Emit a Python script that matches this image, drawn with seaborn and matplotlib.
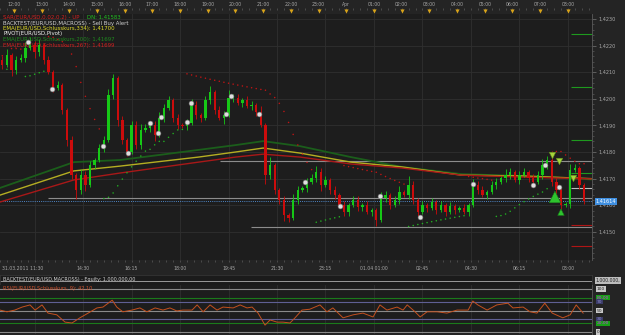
import numpy as np
import matplotlib
matplotlib.use("Agg")
import matplotlib.pyplot as plt
import matplotlib.transforms as mtrans
from matplotlib.ticker import MultipleLocator, FixedLocator
import seaborn as sns

# ---------------- data ----------------
first_open = 1.42146
closes = [1.42127, 1.42165, 1.42108, 1.42146, 1.42153, 1.42191, 1.42202, 1.42176, 1.42202, 1.42146,
          1.42101, 1.42041, 1.42052, 1.41958, 1.41845, 1.41713, 1.41657, 1.41713, 1.41676, 1.41751,
          1.41770, 1.41815, 1.41845, 1.42014, 1.42078, 1.41920, 1.41845, 1.41800, 1.41901, 1.41826,
          1.41883, 1.41890, 1.41901, 1.41864, 1.41928, 1.41965, 1.41995, 1.41928, 1.41901, 1.41898,
          1.41909, 1.41977, 1.41939, 1.41928, 1.41995, 1.42026, 1.41958, 1.41928, 1.41939, 1.42003,
          1.42003, 1.41984, 1.41995, 1.41973, 1.41977, 1.41950, 1.41901, 1.41713, 1.41751, 1.41657,
          1.41619, 1.41563, 1.41552, 1.41619, 1.41657, 1.41665, 1.41687, 1.41702, 1.41725, 1.41676,
          1.41695, 1.41657, 1.41638, 1.41601, 1.41574, 1.41601, 1.41619, 1.41593, 1.41601, 1.41574,
          1.41582, 1.41544, 1.41627, 1.41638, 1.41601, 1.41619, 1.41650, 1.41638, 1.41676, 1.41619,
          1.41574, 1.41601, 1.41589, 1.41612, 1.41582, 1.41601, 1.41574, 1.41597, 1.41582, 1.41589,
          1.41574, 1.41601, 1.41676, 1.41657, 1.41638, 1.41650, 1.41676, 1.41687, 1.41702, 1.41713,
          1.41725, 1.41695, 1.41713, 1.41725, 1.41702, 1.41687, 1.41713, 1.41751, 1.41770, 1.41687,
          1.41657, 1.41601, 1.41605, 1.41732, 1.41740, 1.41676, 1.41614]
wick_up = [2, 3, 1, 2, 2, 3, 4, 2, 3, 1,
           2, 1, 2, 1, 1, 2, 1, 3, 2, 2,
           1, 2, 2, 3, 2, 1, 2, 1, 2, 2,
           3, 2, 1, 2, 3, 2, 2, 1, 2, 1,
           2, 3, 2, 1, 2, 3, 1, 2, 2, 4,
           2, 2, 1, 2, 2, 1, 3, 1, 4, 1,
           1, 2, 1, 3, 2, 1, 2, 2, 3, 2,
           2, 1, 2, 1, 2, 1, 2, 2, 1, 2,
           1, 1, 3, 2, 1, 2, 3, 1, 4, 2,
           1, 2, 1, 2, 1, 2, 1, 2, 1, 1,
           2, 1, 3, 2, 2, 1, 2, 2, 1, 3,
           2, 1, 2, 2, 1, 2, 2, 3, 2, 4,
           2, 1, 1, 3, 2, 1, 1]
wick_dn = [2, 1, 3, 2, 1, 2, 1, 3, 2, 2,
           1, 2, 1, 2, 3, 2, 4, 2, 3, 1,
           2, 1, 2, 1, 2, 3, 2, 2, 1, 2,
           2, 1, 2, 3, 1, 2, 1, 2, 2, 1,
           2, 1, 2, 2, 1, 2, 2, 1, 3, 1,
           2, 1, 2, 1, 2, 2, 1, 4, 2, 2,
           2, 3, 2, 1, 2, 1, 2, 1, 2, 3,
           1, 2, 2, 1, 2, 2, 1, 2, 2, 1,
           2, 3, 1, 2, 2, 1, 2, 1, 2, 2,
           2, 1, 2, 1, 2, 1, 2, 1, 2, 1,
           1, 2, 1, 2, 1, 2, 1, 2, 1, 2,
           2, 1, 2, 1, 2, 2, 1, 2, 2, 2,
           3, 2, 1, 2, 1, 2, 1]

ema_t = [0, 16, 26, 43, 51, 57, 65, 76, 87, 100, 113, 128]
ema200 = [1.41665, 1.41762, 1.41770, 1.41808, 1.41826, 1.41841, 1.41822, 1.41781, 1.41744, 1.41717, 1.41710, 1.41697]
ema334 = [1.41638, 1.41729, 1.41747, 1.41781, 1.41800, 1.41815, 1.41796, 1.41762, 1.41744, 1.41713, 1.41710, 1.41700]
ema267 = [1.41612, 1.41695, 1.41721, 1.41762, 1.41781, 1.41792, 1.41781, 1.41755, 1.41740, 1.41713, 1.41706, 1.41699]

sig_t = [6.1, 11.3, 22.3, 27.7, 32.5, 34.2, 34.9, 40.5, 41.4, 49.0, 50.0, 56.1, 66.1, 73.6, 82.3, 91.0, 102.4, 115.4, 118.0, 121.1]
sig_p = [1.42213, 1.42037, 1.41822, 1.41796, 1.41909, 1.41871, 1.41932, 1.41913, 1.41984, 1.41943, 1.42010, 1.41943,
         1.41687, 1.41597, 1.41634, 1.41555, 1.41680, 1.41676, 1.41751, 1.41668]

arrow_dn_t = [119.6, 121.1, 124.1]
arrow_dn_p = [1.41789, 1.41766, 1.41702]
arrow_up_t = [120.2, 121.5]
arrow_up_p = [1.41631, 1.41574]
arrow_up_size = [70, 22]

pivot_levels = [1.41766, 1.41627, 1.41518]
pivot_start = [47.6, 10.4, 54.4]
short_levels = [1.42244, 1.42044, 1.41845, 1.41721, 1.41665, 1.41525, 1.41446]
short_kind = ["R", "R", "R", "R", "P", "S", "S"]
last_price = 1.41614

rsi_t = [0, 1.5, 3.2, 4.8, 6.5, 7.6, 9.1, 10.4, 12.3, 14.1, 15.6, 17.3, 19.1, 21, 22.3, 24.3, 25.3, 26.6, 28.6, 30.3,
         31.8, 33.6, 35.3, 36.8, 38.3, 39.6, 41.6, 42.7, 44, 45.5, 47, 48.3, 50.5, 52, 53.5, 54.6, 55.9, 57.4, 58.5, 60,
         61.3, 62.8, 63.9, 65.4, 67.1, 69.3, 70.8, 72.1, 74.3, 76.5, 78.6, 80.8, 82.3, 83.8, 86, 87.3, 88.2, 89.9, 91,
         92.5, 94.7, 96.8, 99, 101.4, 102.4, 103.5, 105.5, 107.6, 110, 111.1, 113.3, 114.8, 116.3, 118, 119.6, 121.9,
         123.5, 124.8, 126.3]
rsi_v = [51, 47, 51, 58, 63, 51, 63, 44, 40, 23, 21, 33, 44, 56, 58, 74, 58, 47, 51, 56,
         47, 56, 51, 56, 49, 51, 51, 63, 47, 63, 51, 58, 56, 63, 56, 58, 44, 16, 28, 23,
         23, 21, 33, 51, 53, 63, 47, 56, 33, 40, 44, 35, 63, 51, 58, 51, 63, 47, 35,
         47, 47, 44, 51, 51, 72, 63, 51, 63, 67, 56, 58, 47, 44, 67, 44, 33,
         40, 63, 44]

top_labels = ["12:00", "13:00", "14:00", "15:00", "16:00", "17:00", "18:00", "19:00", "20:00", "21:00",
              "22:00", "23:00", "Apr", "01:00", "02:00", "03:00", "04:00", "05:00", "06:00", "07:00", "08:00"]
bottom_labels = ["31.03.2011 11:30", "14:30", "16:15", "18:00", "19:45", "21:30", "23:15",
                 "01.04 01:00", "02:45", "04:30", "06:15", "08:00"]
price_ticks = [1.4150, 1.4160, 1.4170, 1.4180, 1.4190, 1.4200, 1.4210, 1.4220, 1.4230]
rsi_levels = [100, 80, 70, 50, 30, 20, 0]
rsi_level_labels = ["100", "80,00", "70", "50", "30", "20,00", "0"]

# ---------------- style ----------------
W, H = 625, 335
BG = "#242424"
PANEL = "#1d1d1d"
GRID = "#2f2f2f"
TXT = "#a8a8a8"
UPC = "#16c816"
DNC = "#cc0c0c"
plt.rcParams["font.family"] = ["DejaVu Sans"]

fig = plt.figure(figsize=(W / 100, H / 100), dpi=100, facecolor=BG)


def px_axes(x0, y0, x1, y1):
    return fig.add_axes([x0 / W, 1 - y1 / H, (x1 - x0) / W, (y1 - y0) / H])


XR = 592
XMAX = XR / 4.617
n = len(closes)
opens = [first_open] + closes[:-1]
xs = np.arange(n) + 0.5
grid_x = [7.5 + 10.5 * k for k in range(12)]
top_x = [3 + 6 * k for k in range(len(top_labels))]

# ---------------- main panel ----------------
ax = px_axes(0, 14, XR, 260)
ax.set_facecolor(PANEL)
ax.set_xlim(0, XMAX)
ax.set_ylim(1.41394, 1.42319)
for gx in grid_x:
    ax.axvline(gx, color=GRID, lw=0.6, zorder=0)
for p in price_ticks:
    ax.axhline(p, color=GRID, lw=0.6, zorder=0)

# pivot lines
for lv, st in zip(pivot_levels, pivot_start):
    ax.hlines(lv, st, XMAX, color="#8c8c8c", lw=0.8, zorder=1)
ax.axhline(last_price, color="#4f86c6", lw=0.7, ls=(0, (1, 1.2)), zorder=1)
kcol = {"R": "#1e9a1e", "P": "#bdbdbd", "S": "#b01515"}
for lv, k in zip(short_levels, short_kind):
    ax.hlines(lv, 123.7, XMAX, color=kcol[k], lw=0.8, zorder=1)

# EMAs
sns.lineplot(x=ema_t, y=ema200, ax=ax, color="#1b5e1b", lw=1.3, zorder=2)
sns.lineplot(x=ema_t, y=ema334, ax=ax, color="#b5ae22", lw=1.0, zorder=2)
sns.lineplot(x=ema_t, y=ema267, ax=ax, color="#a81818", lw=1.0, zorder=2)

# candles
highs, lows, cols, bodies, bottoms = [], [], [], [], []
for o, c, wu, wd in zip(opens, closes, wick_up, wick_dn):
    highs.append(max(o, c) + wu * 1e-4 * 0.8)
    lows.append(min(o, c) - wd * 1e-4 * 0.8)
    cols.append(UPC if c >= o else DNC)
    b = abs(c - o)
    bodies.append(max(b, 0.00003))
    bottoms.append(min(o, c))
ax.vlines(xs, lows, highs, colors=cols, lw=0.6, zorder=3)
ax.bar(xs, bodies, bottom=bottoms, width=0.5, color=cols, linewidth=0, zorder=4)


# parabolic SAR from the candles
def psar(high, low, af0=0.02, afmax=0.2):
    m = len(high)
    sar = np.zeros(m)
    trend = np.zeros(m, bool)
    up = False
    sar[0] = high[0]
    ep = low[0]
    af = af0
    trend[0] = up
    for i in range(1, m):
        s = sar[i - 1] + af * (ep - sar[i - 1])
        if up:
            s = min(s, low[i - 1], low[max(i - 2, 0)])
            if low[i] < s:
                up = False
                s = ep
                ep = low[i]
                af = af0
            elif high[i] > ep:
                ep = high[i]
                af = min(af + af0, afmax)
        else:
            s = max(s, high[i - 1], high[max(i - 2, 0)])
            if high[i] > s:
                up = True
                s = ep
                ep = high[i]
                af = af0
            elif low[i] < ep:
                ep = low[i]
                af = min(af + af0, afmax)
        sar[i] = s
        trend[i] = up
    return sar, trend


sar, tr = psar(highs, lows)
ax.scatter(xs, sar, s=1.2, c=[("#22b022" if t else "#c01414") for t in tr], linewidths=0, zorder=5)

# signals and arrows
sns.scatterplot(x=sig_t, y=sig_p, ax=ax, s=12, color="#dedede", edgecolor="#7a7a7a", linewidth=0.4, zorder=6)
sns.scatterplot(x=arrow_dn_t, y=arrow_dn_p, ax=ax, marker="v", s=22, color="#a6d43c", edgecolor="#5c8a1a",
                linewidth=0.4, zorder=6)
sns.scatterplot(x=arrow_up_t, y=arrow_up_p, ax=ax, marker="^", size=arrow_up_size, sizes=(22, 70),
                color="#2ec42e", edgecolor="#1a7a1a", linewidth=0.4, zorder=6, legend=False)

# right axis
ax.yaxis.tick_right()
ax.yaxis.set_major_locator(FixedLocator(price_ticks))
ax.yaxis.set_minor_locator(MultipleLocator(0.0002))
ax.set_yticklabels([f"{p:.4f}".replace(".", ",") for p in price_ticks])
ax.tick_params(axis="y", which="major", colors="#777777", labelcolor=TXT, labelsize=3.6, length=3, width=0.5, pad=1.5)
ax.tick_params(axis="y", which="minor", colors="#666666", length=1.5, width=0.4)
ax.set_xticks([])
for s in ["top", "bottom", "left"]:
    ax.spines[s].set_visible(False)
ax.spines["right"].set_color("#5a5a5a")
ax.spines["right"].set_linewidth(0.6)
ax.set_xlabel("")
ax.set_ylabel("")
trb = mtrans.blended_transform_factory(ax.transAxes, ax.transData)
ax.text(1.006, last_price, "1,41614", transform=trb, fontsize=3.6, color="white", va="center", ha="left",
        bbox=dict(fc="#3f8fe0", ec="none", pad=0.7), zorder=10, clip_on=False)


# legend texts
def yf(ypx):
    return (260 - ypx) / 246


fs = 3.9
ax.text(3 / XR, yf(17), "SAR(EUR/USD,0.02,0.2) - UP", transform=ax.transAxes, color="#d42020", fontsize=fs, va="center")
ax.text(87 / XR, yf(17), "DN: 1,41583", transform=ax.transAxes, color="#22c022", fontsize=fs, va="center")
ax.text(3 / XR, yf(23), "BACKTEST(EUR/USD,MACROSS) - Sell Buy Alert", transform=ax.transAxes, color="#cfcfcf",
        fontsize=fs, va="center")
ax.text(3 / XR, yf(28.5), "EMA(EUR/USD,Schlusskurs,334): 1,41700", transform=ax.transAxes, color="#e0dc2a",
        fontsize=fs, va="center")
ax.text(3 / XR, yf(34), "PIVOT(EUR/USD,Pivot)", transform=ax.transAxes, color="#f0f0f0", fontsize=fs, va="center")
ax.text(3 / XR, yf(39.5), "EMA(EUR/USD,Schlusskurs,200): 1,41697", transform=ax.transAxes, color="#1f8a1f",
        fontsize=fs, va="center")
ax.text(3 / XR, yf(45), "EMA(EUR/USD,Schlusskurs,267): 1,41699", transform=ax.transAxes, color="#d42020",
        fontsize=fs, va="center")

# ---------------- top time strip ----------------
axt = px_axes(0, 0, XR, 14)
axt.set_facecolor("#1f1f1f")
axt.set_xlim(0, XMAX)
axt.set_ylim(14, 0)
axt.axis("off")
axt.vlines(np.arange(0, 129, 1.5), 8.3, 10.0, color="#6a6a6a", lw=0.4)
axt.hlines(13.5, 0, XMAX, color="#3a3a3a", lw=0.6)
for xv, lab in zip(top_x, top_labels):
    axt.text(xv, 4.3, lab, color=TXT, fontsize=3.3, ha="center", va="center")
axt.scatter(top_x, [10.6] * len(top_x), marker="v", s=9, color="#d9a41a", linewidths=0, zorder=3)

# ---------------- bottom time strip ----------------
axb = px_axes(0, 260, XR, 275)
axb.set_facecolor("#1f1f1f")
axb.set_xlim(0, XMAX)
axb.set_ylim(15, 0)
axb.axis("off")
axb.vlines(np.arange(0, 129, 1.5), 0, 2.2, color="#6a6a6a", lw=0.4)
for k, lab in enumerate(bottom_labels):
    if k == 0:
        axb.text(0.4, 9, lab, color=TXT, fontsize=3.3, ha="left", va="center")
    else:
        axb.text(7.5 + 10.5 * k, 9, lab, color=TXT, fontsize=3.3, ha="center", va="center")

# ---------------- equity panel ----------------
axe = px_axes(0, 275, XR, 285)
axe.set_facecolor("#1b1b1b")
axe.set_xlim(0, XMAX)
axe.set_ylim(10, 0)
axe.set_xticks([])
axe.set_yticks([])
for s in axe.spines.values():
    s.set_color("#3a3a3a")
    s.set_linewidth(0.5)
axe.hlines(6, 0, XMAX, color="#9a9a9a", lw=0.7)
axe.text(3 / 4.617, 4.2, "BACKTEST(EUR/USD,MACROSS) - Equity: 1.000.000,00", color="#d0d0d0", fontsize=3.5,
         va="center", ha="left")
axe.text(1.006, 0.45, "1.000.000,", transform=axe.transAxes, fontsize=3.3, color="#222222", va="center",
         ha="left", bbox=dict(fc="#bdbdbd", ec="none", pad=0.5), clip_on=False)

# ---------------- RSI panel ----------------
axr = px_axes(0, 285, XR, 334)
axr.set_facecolor(PANEL)
axr.set_xlim(0, XMAX)
axr.set_ylim(-4.6, 109.3)
for gx in grid_x:
    axr.axvline(gx, color=GRID, lw=0.6, zorder=0)
lvl_col = {100: "#8a8a8a", 80: "#1b7a1b", 70: "#5f5f94", 50: "#8a8a8a", 30: "#5f5f94", 20: "#1b7a1b", 0: "#8a8a8a"}
for lv in rsi_levels:
    axr.axhline(lv, color=lvl_col[lv], lw=0.8, zorder=1)
sns.lineplot(x=rsi_t, y=rsi_v, ax=axr, color="#c4501e", lw=0.7, zorder=3)
axr.text(3 / XR, 0.93, "RSI(EUR/USD,Schlusskurs, 9): 42,10", transform=axr.transAxes, color="#d0502a",
         fontsize=3.6, va="center")
axr.set_xticks([])
axr.set_yticks([])
axr.set_xlabel("")
axr.set_ylabel("")
for s in ["top", "bottom", "left"]:
    axr.spines[s].set_visible(False)
axr.spines["right"].set_color("#5a5a5a")
axr.spines["right"].set_linewidth(0.6)
trr = mtrans.blended_transform_factory(axr.transAxes, axr.transData)
box_style = {
    100: ("#c8c8c8", "#222222"), 80: ("#17a017", "#c040d8"), 70: ("#3c3c6a", "#8c8ccc"),
    50: ("#c8c8c8", "#222222"), 30: ("#3c3c6a", "#8c8ccc"), 20: ("#17a017", "#c040d8"), 0: ("#c8c8c8", "#222222"),
}
for lv, lab in zip(rsi_levels, rsi_level_labels):
    fc, tc = box_style[lv]
    axr.text(1.008, lv, lab, transform=trr, fontsize=3.2, color=tc, va="center", ha="left",
             bbox=dict(fc=fc, ec="none", pad=0.4), clip_on=False, zorder=10)

fig.savefig("out.png", dpi=100, facecolor=BG)
